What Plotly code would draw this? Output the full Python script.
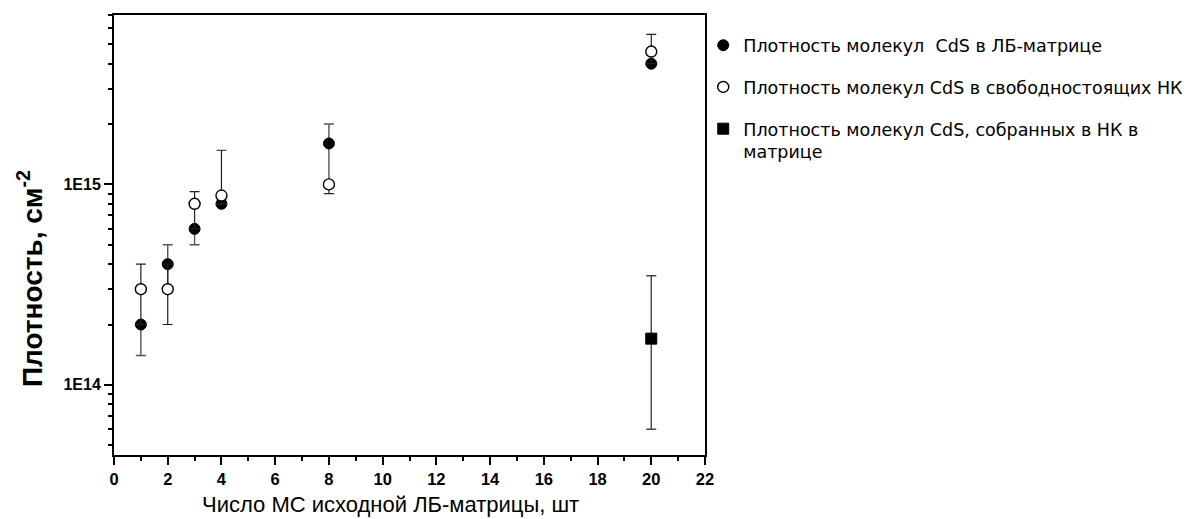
import plotly.graph_objects as go

# ---- data ----
layers = [1, 2, 3, 4, 8, 20]

lb_density = [2e14, 4e14, 6e14, 8e14, 1.6e15, 4e15]
lb_err_plus = [0, 1e14, 0, 0, 0.4e15, 0]
lb_err_minus = [0.6e14, 1e14, 1e14, 0, 0.6e15, 0]

free_density = [3e14, 3e14, 8e14, 8.8e14, 1e15, 4.6e15]
free_err_plus = [1e14, 1e14, 1.2e14, 6e14, 0, 1e15]
free_err_minus = [1e14, 1e14, 2e14, 0.8e14, 0.1e15, 0.6e15]

nc_layers = [20]
nc_density = [1.7e14]
nc_err_plus = [1.8e14]
nc_err_minus = [1.1e14]

names = [
    "Плотность молекул  CdS в ЛБ-матрице",
    "Плотность молекул CdS в свободностоящих НК",
    "Плотность молекул CdS, собранных в НК в<br>матрице",
]

x_title = "Число МС исходной ЛБ-матрицы, шт"
y_title = "<b>Плотность, см<sup>-2</sup></b>"

y_tickvals = [1e14, 1e15]
y_ticktext = ["<b>1E14</b>", "<b>1E15</b>"]
y_minor = [m * 10 ** e for e in (13, 14, 15) for m in range(2, 10)
           if 4.4e13 < m * 10 ** e < 7.2e15]

FONT = "Liberation Sans, Arial, sans-serif"
LEG_FONT = "DejaVu Sans, Liberation Sans, sans-serif"

fig = go.Figure()

fig.add_trace(go.Scatter(
    x=layers, y=lb_density, mode="markers", name=names[0],
    legendgroup="a",
    marker=dict(symbol="circle", size=11, color="black", line=dict(color="black", width=1)),
    error_y=dict(type="data", symmetric=False, array=lb_err_plus, arrayminus=lb_err_minus,
                 color="#555555", thickness=1.4, width=5),
))
fig.add_trace(go.Scatter(
    x=layers, y=free_density, mode="markers", name=names[1],
    legendgroup="b",
    marker=dict(symbol="circle", size=11, color="white", line=dict(color="black", width=1.4)),
    error_y=dict(type="data", symmetric=False, array=free_err_plus, arrayminus=free_err_minus,
                 color="#222222", thickness=1.2, width=5),
))
fig.add_trace(go.Scatter(
    x=nc_layers, y=nc_density, mode="markers", name=names[2],
    legendgroup="c",
    marker=dict(symbol="square", size=11, color="black", line=dict(color="black", width=1)),
    error_y=dict(type="data", symmetric=False, array=nc_err_plus, arrayminus=nc_err_minus,
                 color="#444444", thickness=1.4, width=5),
))

# page body adds an 8px offset; figure sized to fill the remaining window
fig.update_layout(
    width=1192, height=511,
    margin=dict(l=106, r=495, t=7, b=64),
    paper_bgcolor="white", plot_bgcolor="white",
    font=dict(family=FONT, color="black"),
    legend=dict(
        x=0.997, xanchor="left", y=0.972, yanchor="top",
        font=dict(family=LEG_FONT, size=17.5, color="black"),
        tracegroupgap=16, traceorder="grouped", valign="top",
        bgcolor="rgba(0,0,0,0)", itemwidth=30,
    ),
    showlegend=True,
    annotations=[
        dict(text=x_title, xref="paper", yref="paper", x=(382 - 106) / 591, y=-0.112,
             xanchor="center", yanchor="middle", showarrow=False,
             font=dict(family=FONT, size=22, color="black")),
        dict(text=y_title, xref="paper", yref="paper", x=-0.142, y=0.40,
             xanchor="center", yanchor="middle", textangle=-90, showarrow=False,
             font=dict(family=FONT, size=28, color="black")),
    ],
)

fig.update_xaxes(
    range=[0, 22], dtick=2, tick0=0, automargin=False,
    showgrid=False, zeroline=False,
    showline=True, linecolor="black", linewidth=2, mirror=True,
    ticks="outside", ticklen=8, tickwidth=2, tickcolor="black",
    tickfont=dict(family=FONT, size=16.5, color="black", weight="bold"),
    minor=dict(ticks="outside", ticklen=4, tickwidth=2, tickcolor="black", dtick=1, tick0=0,
               showgrid=False),
)

fig.update_yaxes(
    type="log", range=[13.65, 15.845], automargin=False,
    tickmode="array", tickvals=y_tickvals, ticktext=y_ticktext,
    showgrid=False, zeroline=False,
    showline=True, linecolor="black", linewidth=2, mirror=True,
    ticks="outside", ticklen=8, tickwidth=2, tickcolor="black",
    tickfont=dict(family=FONT, size=16, color="black"),
    minor=dict(ticks="outside", ticklen=4, tickwidth=2, tickcolor="black",
               tickmode="array", tickvals=y_minor, showgrid=False),
)

fig.write_html("out.html")
